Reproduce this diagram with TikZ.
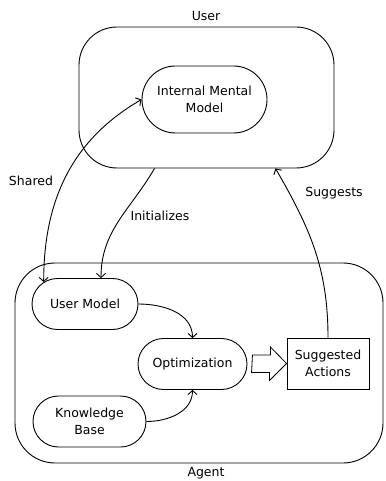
\documentclass[tikz,border=0pt]{standalone}
\usepackage{fontspec}
\setmainfont{DejaVu Sans}
\usetikzlibrary{shapes.misc,arrows.meta}
\begin{document}
\begin{tikzpicture}[x=1pt,y=-1pt,line width=0.9pt,
    font=\fontsize{12.5}{16.5}\selectfont,
    box/.style={draw,rounded corners=#1,inner sep=0pt},
    pill/.style={draw,rounded rectangle,align=center,inner sep=0pt,minimum height=51pt},
    >={Straight Barb[length=4pt,width=9pt]}]
  \useasboundingbox (0,0) rectangle (385,481);
  \node[box=38pt,minimum width=255pt,minimum height=141pt] (user) at (206.5,97.5) {};
  \node (userlbl) at (206,16) {User};
  \node[box=40pt,minimum width=368pt,minimum height=200pt] (agent) at (199,363) {};
  \node (agentlbl) at (206,473) {Agent};
  \node[pill,minimum width=125pt,minimum height=67pt] (imm) at (204.5,99.5) {Internal Mental\\Model};
  \node[pill,minimum width=106pt] (um) at (85,304) {User Model};
  \node[pill,minimum width=109pt] (opt) at (192.5,364) {Optimization};
  \node[pill,minimum width=113pt] (kb) at (89.5,421.5) {Knowledge\\Base};
  \node[draw,align=center,minimum width=82pt,minimum height=51pt,inner sep=0pt] (sa) at (328,363.5) {Suggested\\Actions};
  \node (shared) at (31,181) {Shared};
  \node (init) at (160,216) {Initializes};
  \node (sugg) at (334,193) {Suggests};
  \begin{scope}[->]
    \draw[<->] (um.152) to[out=90,in=210] (imm.west);
    \draw ([xshift=-52pt]user.south) to[out=240,in=90] ([xshift=16pt]um.north);
    \draw (sa.north) to[out=90,in=-60] ([xshift=69pt]user.south);
    \draw (um.east) to[out=0,in=90] (opt.north);
    \draw (kb.east) to[out=0,in=-90] (opt.south);
  \end{scope}
  % hollow arrow between optimization and actions
  \draw[line width=0.8pt] ([xshift=5pt]opt.east) ++(0,-9) -- ++(18,0) -- ++(0,-8) -- (sa.west)
    -- ++(-17,17) -- ++(0,-8) -- ++(-18,0) -- cycle;
\end{tikzpicture}
\end{document}
